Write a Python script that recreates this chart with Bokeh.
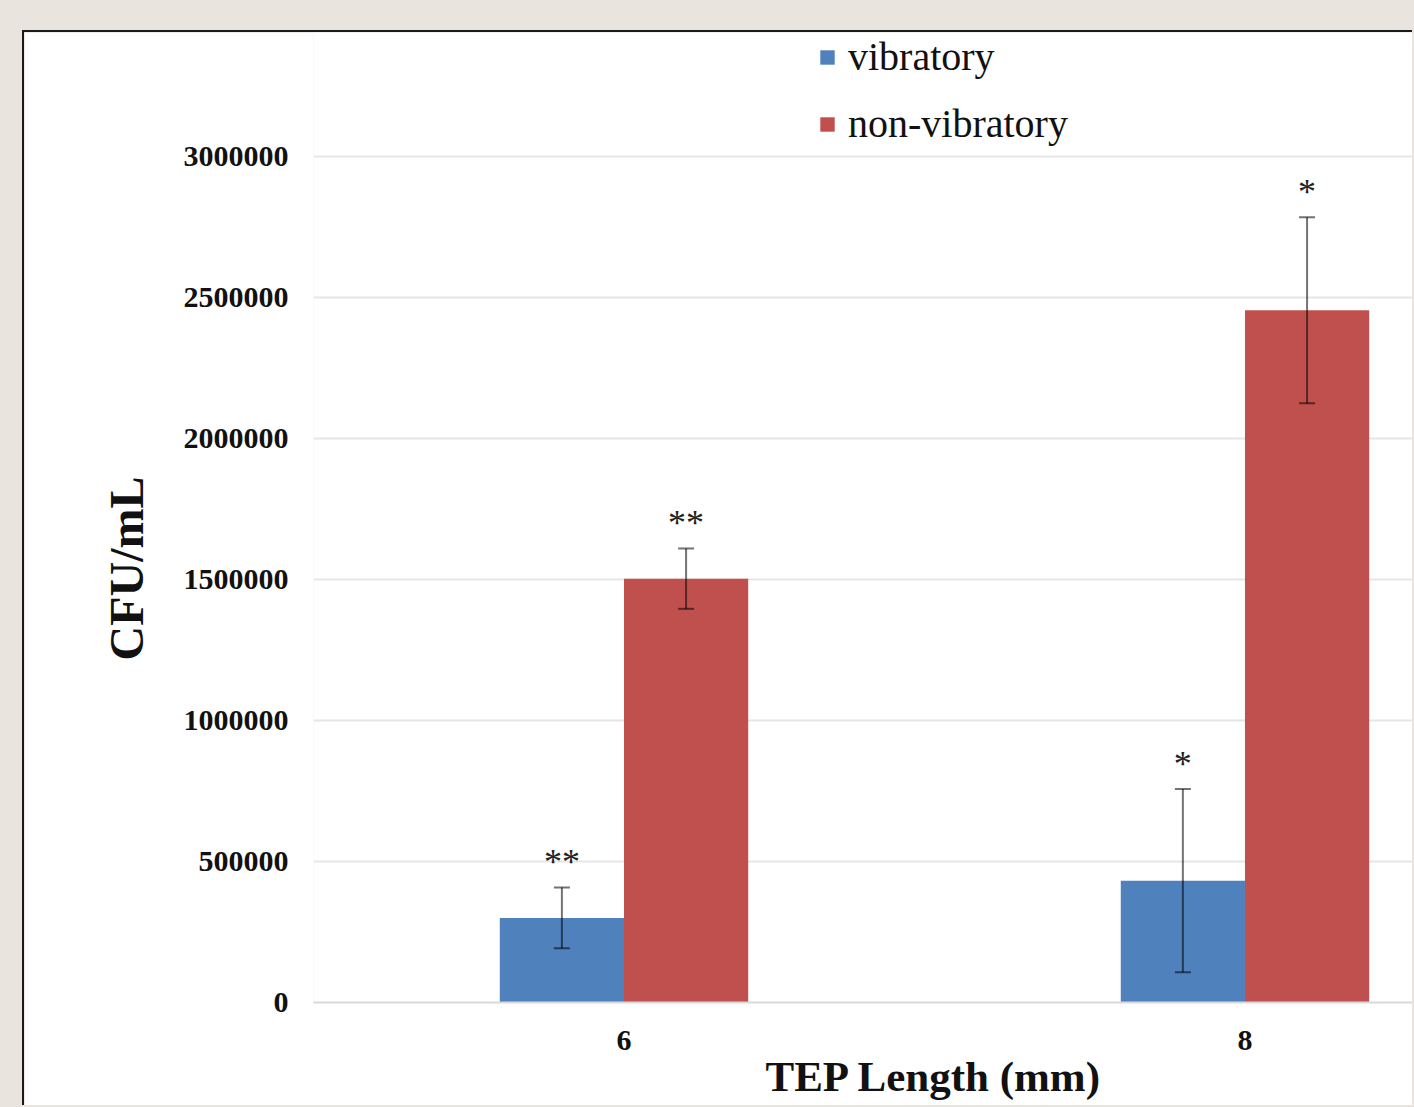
from bokeh.plotting import figure
from bokeh.models import (ColumnDataSource, FixedTicker, Range1d, Whisker, TeeHead,
                          Spacer, NumeralTickFormatter, Title)
from bokeh.layouts import column, row
from bokeh.transform import dodge
from bokeh.core.properties import value
from bokeh.embed import file_html
from bokeh.resources import INLINE

# ---- data ----
tep_length = [6, 8]
vibratory = [300000, 432000]
vibratory_err = [108000, 325000]
non_vibratory = [1503000, 2455000]
non_vibratory_err = [107000, 330000]
vibratory_sig = ["**", "*"]
non_vibratory_sig = ["**", "*"]
y_ticks = [0, 500000, 1000000, 1500000, 2000000, 2500000, 3000000]
x_ticks = [6, 8]
x_title = "TEP Length (mm)"
y_title = "CFU/mL"

BG = "#E9E5DE"
BLUE = "#4F81BD"
RED = "#C0504D"
FONT = "Liberation Serif"

src_v = ColumnDataSource(dict(
    x=tep_length, top=vibratory,
    lo=[v - e for v, e in zip(vibratory, vibratory_err)],
    hi=[v + e for v, e in zip(vibratory, vibratory_err)],
    sig=vibratory_sig))
src_n = ColumnDataSource(dict(
    x=tep_length, top=non_vibratory,
    lo=[v - e for v, e in zip(non_vibratory, non_vibratory_err)],
    hi=[v + e for v, e in zip(non_vibratory, non_vibratory_err)],
    sig=non_vibratory_sig))

p = figure(width=1390, height=1075, output_backend="svg", toolbar_location=None,
           x_range=Range1d(5.0, 8.546), y_range=Range1d(0, 3439700),
           min_border_left=289, min_border_right=0, min_border_top=0,
           min_border_bottom=105)
p.styles = {"border-left": "2px solid #1a1a1a", "border-top": "2px solid #1a1a1a"}
p.background_fill_color = "white"
p.border_fill_color = "white"
p.outline_line_color = None

off = 0.2
bw = 0.4
p.vbar(x=dodge("x", -off), top="top", width=bw, source=src_v, fill_color=BLUE,
       line_color=None, legend_label="vibratory")
p.vbar(x=dodge("x", off), top="top", width=bw, source=src_n, fill_color=RED,
       line_color=None, legend_label="non-vibratory")

for src, d in ((src_v, -off), (src_n, off)):
    w = Whisker(source=src, base=dodge("x", d), upper="hi", lower="lo",
                line_color="black", line_alpha=0.55, line_width=2, level="overlay",
                upper_head=TeeHead(size=16, line_color="black", line_alpha=0.55, line_width=2),
                lower_head=TeeHead(size=16, line_color="black", line_alpha=0.55, line_width=2))
    p.add_layout(w)
    p.text(x=dodge("x", d), y="hi", text="sig", source=src, text_align="center",
           text_baseline="alphabetic", y_offset=-25, text_font=value(FONT),
           text_font_size="36px", text_color="#222222")

# axes
p.xaxis.ticker = FixedTicker(ticks=x_ticks)
p.yaxis.ticker = FixedTicker(ticks=y_ticks)
p.yaxis.formatter = NumeralTickFormatter(format="0")
for ax in (p.xaxis[0], p.yaxis[0]):
    ax.major_tick_line_color = None
    ax.minor_tick_line_color = None
    ax.major_label_text_font = FONT
    ax.major_label_text_font_style = "bold"
    ax.major_label_text_color = "#111111"
p.yaxis.axis_line_color = None
p.xaxis.axis_line_color = "#D9D9D9"
p.xaxis.axis_line_width = 2
p.yaxis.major_label_text_font_size = "30px"
p.yaxis.major_label_standoff = 19
p.xaxis.major_label_text_font_size = "30px"
p.xaxis.major_label_standoff = 22

# axis titles (side titles so they can be offset like the reference)
yt = Title(text=y_title, align="left", offset=342, vertical_align="bottom",
           standoff=56, text_font=FONT, text_font_style="bold",
           text_font_size="48px", text_color="#111111")
p.add_layout(yt, "left")
xt = Title(text=x_title, align="left", offset=452, vertical_align="top",
           standoff=0, text_font=FONT, text_font_style="bold",
           text_font_size="43px", text_color="#111111")
p.add_layout(xt, "below")

p.xgrid.visible = False
p.ygrid.ticker = FixedTicker(ticks=y_ticks)
p.ygrid.grid_line_color = "#E6E6E6"
p.ygrid.grid_line_width = 2

lg = p.legend[0]
lg.location = (505, 855)
lg.glyph_width = 18
lg.glyph_height = 18
lg.label_text_font = FONT
lg.label_text_font_size = "40px"
lg.label_text_color = "#111111"
lg.label_standoff = 12
lg.spacing = 20
lg.padding = 0
lg.margin = 0
lg.border_line_color = None
lg.background_fill_alpha = 0

layout = column(Spacer(height=30), row(Spacer(width=22), p),
                styles={"background-color": BG})

html = file_html(layout, INLINE)
html = html.replace("</head>", "<style>body{background-color:%s;}</style></head>" % BG, 1)
open("out.html", "w").write(html)
